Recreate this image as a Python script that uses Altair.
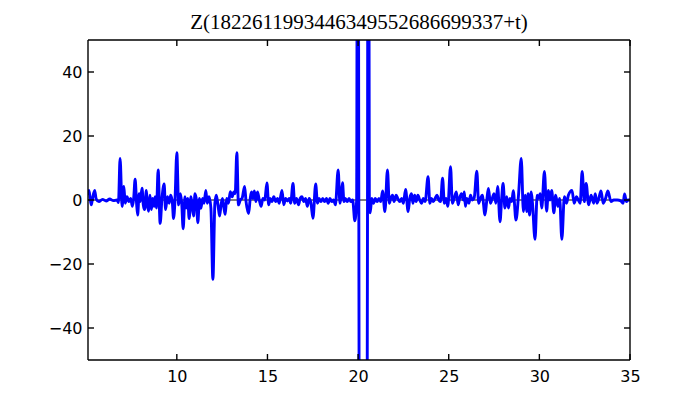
import altair as alt
import pandas as pd

# ---- data ----
t_vals = [
    5.10, 5.15, 5.22, 5.28, 5.35, 5.47, 5.55, 5.70, 5.90, 6.10, 6.30, 6.50, 6.70, 6.78,
    6.87, 6.98, 7.08, 7.15, 7.25, 7.35, 7.45, 7.55, 7.62, 7.70, 7.78, 7.84, 7.92, 7.98,
    8.08, 8.15, 8.22, 8.32, 8.38, 8.45, 8.52, 8.60, 8.66, 8.75, 8.80, 8.88, 8.97, 9.08,
    9.18, 9.30, 9.38, 9.48, 9.58, 9.66, 9.75, 9.82, 9.90, 10.00, 10.10, 10.20, 10.27,
    10.35, 10.45, 10.52, 10.60, 10.68, 10.78, 10.85, 10.93, 11.00, 11.08, 11.16, 11.25,
    11.33, 11.42, 11.50, 11.60, 11.68, 11.78, 11.88, 11.99, 12.10, 12.18, 12.28, 12.36,
    12.44, 12.52, 12.60, 12.67, 12.75, 12.85, 12.95, 13.05, 13.15, 13.22, 13.31, 13.40,
    13.50, 13.60, 13.74, 13.82, 13.96, 14.05, 14.12, 14.20, 14.28, 14.36, 14.45, 14.55,
    14.65, 14.75, 14.85, 14.97, 15.07, 15.15, 15.25, 15.35, 15.45, 15.55, 15.65, 15.80,
    15.90, 16.00, 16.10, 16.20, 16.28, 16.41, 16.50, 16.60, 16.72, 16.80, 16.90, 17.00,
    17.10, 17.20, 17.30, 17.40, 17.51, 17.66, 17.76, 17.85, 17.95, 18.05, 18.15, 18.25,
    18.35, 18.45, 18.55, 18.65, 18.75, 18.90, 19.00, 19.06, 19.14, 19.22, 19.30, 19.40,
    19.50, 19.60, 19.70, 19.82, 19.92, 19.98, 20.04, 20.10, 20.30, 20.46, 20.52, 20.56,
    20.62, 20.67, 20.75, 20.85, 20.95, 21.05, 21.15, 21.25, 21.35, 21.48, 21.62, 21.72,
    21.80, 21.90, 21.98, 22.10, 22.20, 22.30, 22.40, 22.50, 22.62, 22.76, 22.85, 22.95,
    23.02, 23.12, 23.20, 23.30, 23.40, 23.50, 23.60, 23.70, 23.86, 23.96, 24.05, 24.15,
    24.25, 24.35, 24.45, 24.55, 24.66, 24.76, 24.85, 24.95, 25.10, 25.20, 25.30, 25.42,
    25.52, 25.60, 25.70, 25.80, 25.86, 25.92, 26.00, 26.12, 26.20, 26.30, 26.40, 26.55,
    26.65, 26.75, 26.85, 27.00, 27.10, 27.19, 27.30, 27.40, 27.50, 27.60, 27.70, 27.83,
    27.92, 28.00, 28.10, 28.20, 28.30, 28.38, 28.48, 28.56, 28.71, 28.85, 29.00, 29.12,
    29.22, 29.30, 29.38, 29.46, 29.55, 29.62, 29.76, 29.88, 29.95, 30.05, 30.13, 30.28,
    30.40, 30.50, 30.58, 30.68, 30.80, 30.90, 31.02, 31.12, 31.24, 31.38, 31.50, 31.60,
    31.80, 31.92, 32.05, 32.15, 32.25, 32.36, 32.48, 32.58, 32.72, 32.85, 33.00, 33.08,
    33.18, 33.28, 33.40, 33.52, 33.65, 33.78, 33.95, 34.10, 34.30, 34.50, 34.62, 34.70,
    34.80, 34.90, 35.00,
]
z_vals = [
    1.5, 3.0, 0.5, -1.5, 0.5, 3.0, 0.3, -0.5, 0.2, -0.3, 0.3, -0.2, 0.0, -0.8,
    13.0, -2.0, 4.2, -1.0, 1.0, -0.5, 0.5, -2.0, 0.5, 6.5, -1.0, -4.7, 2.0, -0.5,
    3.7, -1.5, -3.0, 3.0, -1.5, -3.5, 1.5, -3.0, 0.5, -2.0, 1.0, -2.5, 9.4, -7.3,
    0.5, 5.0, -3.0, 1.0, -1.0, 1.5, -0.5, -5.8, 0.0, 14.8, -1.5, 2.0, -1.0,
    -9.0, 1.0, -2.5, 0.5, -5.8, 1.0, -2.0, -5.0, 2.0, 0.0, -7.1, 0.5,
    -2.6, 0.5, -1.0, 3.0, -1.0, 1.0, -2.5, -24.8, -1.0, 1.5, -2.0, -5.0,
    -1.5, 0.5, -2.5, -4.5, 0.5, -1.0, 2.6, 1.0, 2.5, 2.0, 14.8, -1.5,
    0.0, 0.5, 4.2, -0.5, -4.2, 0.5, 2.5, 0.5, 2.8, -0.5, 2.5, 0.0,
    -2.0, 0.5, 0.0, 5.3, -1.5, 0.5, -0.5, 1.0, -0.5, 0.5, -1.0, 3.0,
    -1.5, 0.5, -0.3, 0.5, -1.0, 5.2, -1.0, 0.5, -1.5, 0.5, 1.0, -0.5,
    0.5, -2.0, 0.5, -1.0, -5.7, 5.0, -1.0, 0.5, -0.5, 0.5, -0.5, 0.5,
    -1.0, 0.5, -0.5, 0.0, -1.5, 9.4, -1.0, 1.0, 5.4, -0.5, 0.5, -0.5,
    0.5, -0.5, 0.0, -6.5, 0.0, 200.0, 0.0, -200.0, -300.0, -200.0, 0.0, 200.0,
    0.0, -4.0, 0.5, -1.0, 0.5, -0.5, 0.5, -0.5, 2.8, -3.6, 9.4, -1.0,
    0.5, 1.5, -0.5, 1.5, 0.3, -0.5, 0.5, -1.0, 3.3, -3.6, 0.5, 2.0,
    -1.0, 1.5, -0.5, 1.5, 0.0, -1.0, 0.5, -0.5, 7.3, -1.0, 0.5, -0.5,
    0.5, 1.5, 0.0, -0.5, 6.8, -1.0, 0.5, -2.0, 10.4, -1.0, 0.5, 2.5,
    -1.5, 0.5, 2.0, 0.0, 2.5, -2.0, 0.5, -1.0, 1.5, 0.0, 0.5, 9.0,
    -1.0, 0.5, 1.5, -4.7, 0.0, 3.6, -1.0, 0.5, 2.0, -1.0, 4.2, -6.8,
    0.5, 5.2, -2.5, 1.0, -2.5, 0.5, -0.5, 2.9, -6.3, 1.5, 13.0, -3.6,
    1.5, -3.6, 2.0, -4.7, 2.5, -1.0, -12.3, 1.5, 0.5, 2.0, -2.5, 8.9,
    -3.5, 3.0, 0.0, 3.0, -4.0, 1.5, -2.0, 0.5, -12.3, 1.0, -1.0, 1.5,
    3.0, -1.0, 1.0, 0.0, -1.0, 8.9, -0.5, 5.2, -1.5, 1.5, -1.0, 2.0,
    -1.0, 0.5, 2.8, -1.0, 0.5, 2.8, -0.5, 0.0, 0.0, -0.3, -1.0, 1.9,
    -0.5, 0.0, 0.0,
]
x_ticks = [10, 15, 20, 25, 30, 35]
y_ticks = [-40, -20, 0, 20, 40]
x_domain = [5.1, 35]
y_domain = [-50, 50]
title_text = "Z(1822611993446349552686699337+t)"

W, H = 542, 320
TICK = 6

df = pd.DataFrame({"t": t_vals, "z": z_vals})
xt = pd.DataFrame({"x": x_ticks})
yt = pd.DataFrame({"y": y_ticks})
zero = pd.DataFrame({"y": [0]})
frame_x = pd.DataFrame({"x": x_domain})
frame_y = pd.DataFrame({"y": y_domain})

xscale = alt.Scale(domain=x_domain, nice=False, zero=False)
yscale = alt.Scale(domain=y_domain, nice=False, zero=False)

line = alt.Chart(df).mark_line(color="#0000ff", strokeWidth=2.9, clip=True,
                               interpolate="monotone").encode(
    x=alt.X("t:Q", scale=xscale,
            axis=alt.Axis(values=x_ticks, title=None, grid=False, domain=False,
                          tickSize=0, labelPadding=8, labelFontSize=16,
                          labelFont="DejaVu Sans", labelColor="black",
                          labelFlush=False)),
    y=alt.Y("z:Q", scale=yscale,
            axis=alt.Axis(values=y_ticks, title=None, grid=False, domain=False,
                          tickSize=0, labelPadding=6, labelFontSize=16,
                          labelFont="DejaVu Sans", labelColor="black",
                          labelFlush=False, format="d")),
)

zline = alt.Chart(zero).mark_rule(color="black", strokeWidth=1).encode(
    y=alt.Y("y:Q", scale=yscale))

rule = dict(color="black", strokeWidth=1.4, opacity=1)
xt_bot = alt.Chart(xt).mark_rule(**rule).encode(
    x=alt.X("x:Q", scale=xscale), y=alt.value(H), y2=alt.value(H - TICK))
xt_top = alt.Chart(xt).mark_rule(**rule).encode(
    x=alt.X("x:Q", scale=xscale), y=alt.value(0), y2=alt.value(TICK))
yt_left = alt.Chart(yt).mark_rule(**rule).encode(
    y=alt.Y("y:Q", scale=yscale), x=alt.value(0), x2=alt.value(TICK))
yt_right = alt.Chart(yt).mark_rule(**rule).encode(
    y=alt.Y("y:Q", scale=yscale), x=alt.value(W - TICK), x2=alt.value(W))

# frame drawn as rules at the domain ends
fr_v = alt.Chart(frame_x).mark_rule(**rule).encode(
    x=alt.X("x:Q", scale=xscale), y=alt.value(0), y2=alt.value(H))
fr_h = alt.Chart(frame_y).mark_rule(**rule).encode(
    y=alt.Y("y:Q", scale=yscale), x=alt.value(0), x2=alt.value(W))

chart = alt.layer(zline, line, xt_bot, xt_top, yt_left, yt_right, fr_v, fr_h).properties(
    width=W, height=H,
    title=alt.TitleParams(title_text, font="Liberation Serif", fontSize=21,
                          fontWeight="normal", color="black", anchor="middle",
                          offset=6),
    autosize=alt.AutoSizeParams(type="none"),
    padding={"left": 80, "top": 32, "right": 62, "bottom": 32},
).configure_view(stroke=None)

chart.save("out.html", embed_options={"renderer": "svg", "actions": False})
